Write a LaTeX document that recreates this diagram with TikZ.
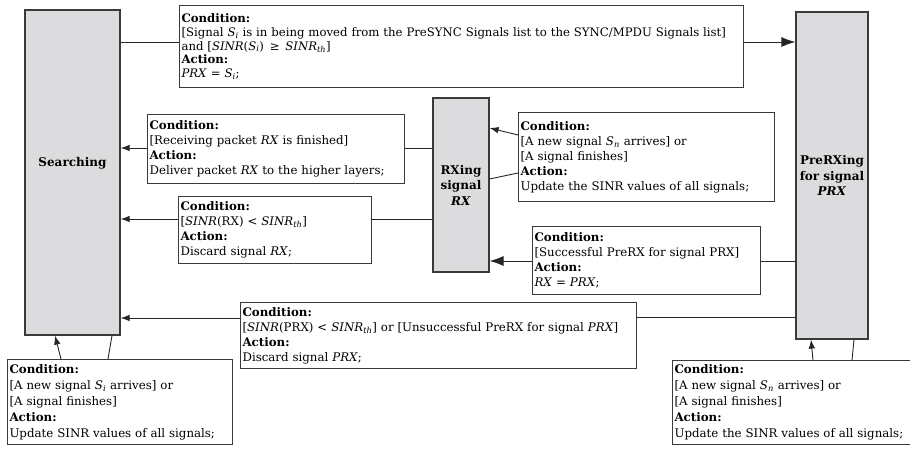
\documentclass[tikz,border=0pt]{standalone}
\usepackage{fontspec}
\setmainfont{DejaVu Serif}
\usetikzlibrary{arrows.meta}
\definecolor{stfill}{HTML}{DCDCDE}
\definecolor{bord}{HTML}{3A3A3A}
\newcommand{\mysb}[1]{\textsubscript{\textit{#1}}}
\newcommand{\nl}{\\\relax}
\tikzset{
  state/.style={draw=bord, fill=stfill, line width=1.2pt, inner sep=0pt, font=\fontsize{12}{15.5}\selectfont\bfseries, align=center},
  cbox/.style={draw=bord, line width=1.1pt, anchor=north west, inner xsep=2pt, inner ysep=1pt, align=left,
     font=\fontsize{11.8}{15}\selectfont},
  tight/.style={font=\fontsize{11.7}{13.6}\selectfont},
  loose/.style={font=\fontsize{11.8}{16}\selectfont},
  normal/.style={},
  conn/.style={line width=0.9pt, draw=black!85},
  sarr/.style={conn, -{Latex[length=9pt,width=6.5pt]}},
  barr/.style={conn, -{Latex[length=14pt,width=10pt]}},
  lbl/.style={font=\fontsize{12}{15}\selectfont\bfseries, align=center, inner sep=0pt}
}
\newcommand{\cbx}[7]{% name, style, x, y, w, h, text
  \node[cbox, #2, minimum width=#5pt, minimum height=#6pt, text width=#5pt-4pt] (#1) at (#3,#4) {#7};}
\begin{document}
\begin{tikzpicture}[x=1pt,y=-1pt]
\useasboundingbox (0,0) rectangle (910,449);
% states
\node[state, minimum width=95pt, minimum height=325pt] (srch) at (72.5,172.5) {};
\node[lbl] (srchl) at (72.5,163) {Searching};
\node[state, minimum width=56pt, minimum height=174pt] (rxs) at (461,185) {RXing\\signal\\\textit{RX}};
\node[state, minimum width=72pt, minimum height=327pt] (prx) at (832,175.5) {PreRXing\\for signal\\\textit{PRX}};
% condition boxes
\cbx{c1}{tight}{179}{5}{564}{82}{\textbf{Condition:}\nl
[Signal \textit{S}\mysb{i} is in being moved from the PreSYNC Signals list to the SYNC/MPDU Signals list]\nl
and [\textit{SINR}(\textit{S}\mysb{i}) \,≥\, \textit{SINR}\mysb{th}]\nl
\textbf{Action:}\nl
\textit{PRX} = \textit{S}\mysb{i};}
\cbx{c2}{normal}{147}{114}{257}{69}{\textbf{Condition:}\nl
[Receiving packet \textit{RX} is finished]\nl
\textbf{Action:}\nl
Deliver packet \textit{RX} to the higher layers;}
\cbx{c3}{normal}{178}{196}{193}{67}{\textbf{Condition:}\nl
[\textit{SINR}(RX) < \textit{SINR}\mysb{th}]\nl
\textbf{Action:}\nl
Discard signal \textit{RX};}
\cbx{c4}{normal}{518}{112}{256}{89}{\textbf{Condition:}\nl
[A new signal \textit{S}\mysb{n} arrives] or\nl
[A signal finishes]\nl
\textbf{Action:}\nl
Update the SINR values of all signals;}
\cbx{c5}{normal}{532}{226}{228}{68}{\textbf{Condition:}\nl
[Successful PreRX for signal PRX]\nl
\textbf{Action:}\nl
\textit{RX} = \textit{PRX};}
\cbx{c6}{normal}{240}{302}{396}{66}{\textbf{Condition:}\nl
[\textit{SINR}(PRX) < \textit{SINR}\mysb{th}] or [Unsuccessful PreRX for signal \textit{PRX}]\nl
\textbf{Action:}\nl
Discard signal \textit{PRX};}
\cbx{c7}{loose}{7}{359}{225}{85}{\textbf{Condition:}\nl
[A new signal \textit{S}\mysb{i} arrives] or\nl
[A signal finishes]\nl
\textbf{Action:}\nl
Update SINR values of all signals;}
\cbx{c8}{loose}{672}{360}{243}{84}{\textbf{Condition:}\nl
[A new signal \textit{S}\mysb{n} arrives] or\nl
[A signal finishes]\nl
\textbf{Action:}\nl
Update the SINR values of all signals;}
% connectors
\draw[conn] (srch.east |- 0,42) -- (c1.west |- 0,42);
\draw[barr] (c1.east |- 0,42) -- (prx.west |- 0,42);
\draw[conn] (rxs.west |- 0,148) -- (c2.east |- 0,148);
\draw[sarr] (c2.west |- 0,148) -- (srch.east |- 0,148);
\draw[conn] (rxs.west |- 0,219) -- (c3.east |- 0,219);
\draw[sarr] (c3.west |- 0,219) -- (srch.east |- 0,219);
\draw[conn] (rxs.east |- 0,179) -- (c4.west |- 0,173);
\draw[sarr] (c4.west |- 0,135) -- (rxs.east |- 0,128);
\draw[conn] (prx.west |- 0,261) -- (c5.east |- 0,261);
\draw[barr] (c5.west |- 0,261) -- (rxs.east |- 0,261);
\draw[conn] (prx.west |- 0,317) -- (c6.east |- 0,317);
\draw[sarr] (c6.west |- 0,318) -- (srch.east |- 0,318);
\draw[conn] (srch.south -| 112,0) -- (c7.north -| 108,0);
\draw[sarr] (c7.north -| 61,0) -- (srch.south -| 55,0);
\draw[conn] (prx.south -| 854,0) -- (c8.north -| 852,0);
\draw[sarr] (c8.north -| 813,0) -- (prx.south -| 811,0);
\end{tikzpicture}
\end{document}
